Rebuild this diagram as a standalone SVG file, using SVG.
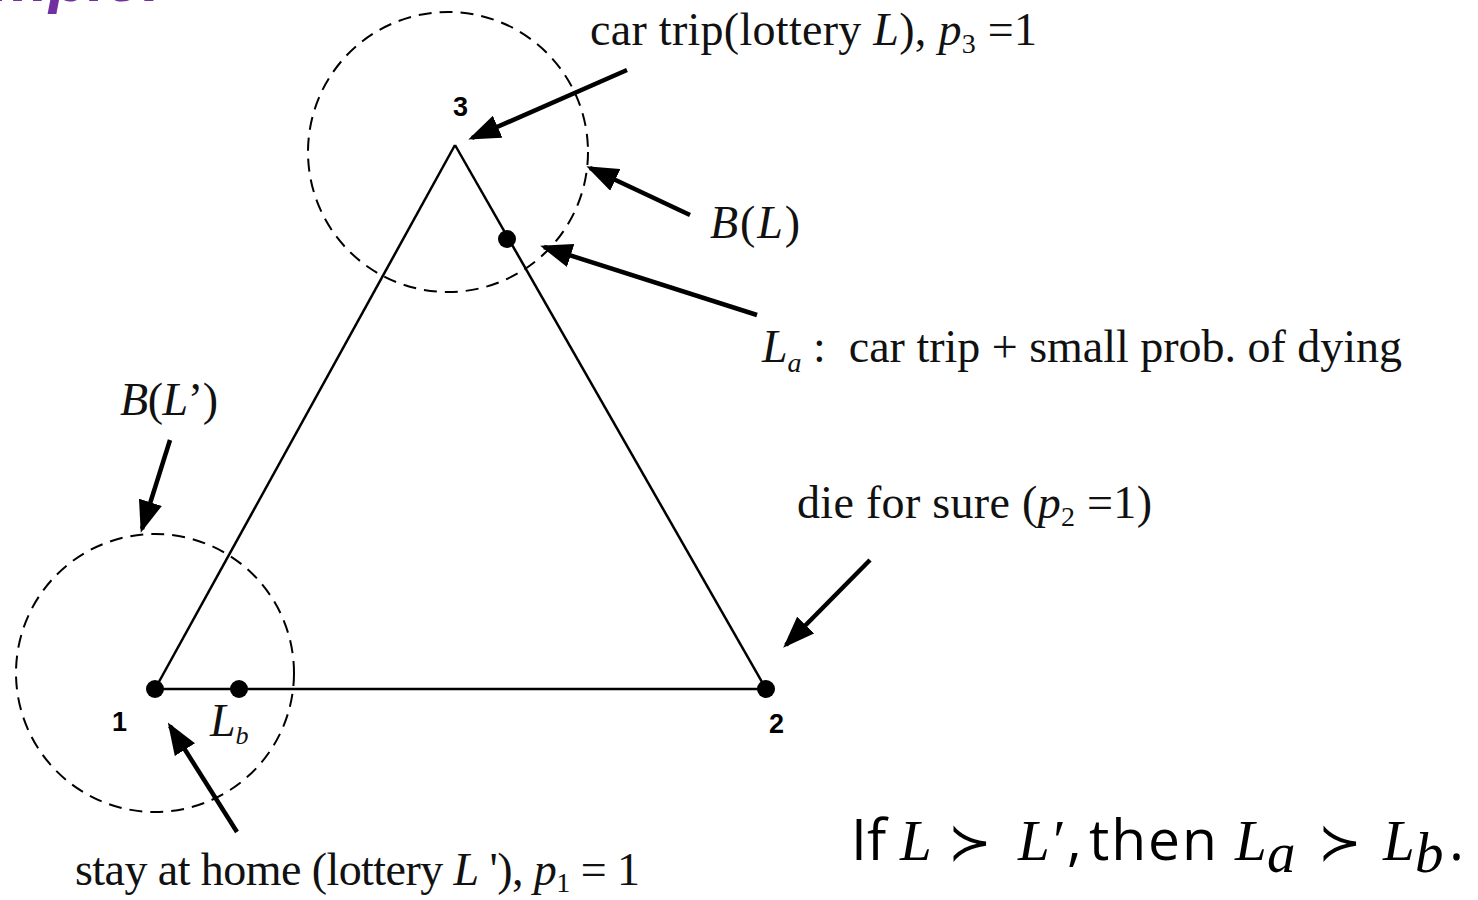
<svg xmlns="http://www.w3.org/2000/svg" width="1478" height="900" viewBox="0 0 1478 900">
<style>
.t{font-family:"Liberation Serif","DejaVu Serif",serif;font-size:46px;fill:#111}
.i{font-style:italic}
.num{font-family:"Liberation Sans",Arial,sans-serif;font-weight:bold;font-size:27px;fill:#000}
.edge{stroke:#000;stroke-width:2.5;fill:none}
.dash{stroke:#000;stroke-width:2;fill:none;stroke-dasharray:13 8}
.arr{stroke:#000;stroke-width:4.5;fill:none;marker-end:url(#ah)}
.dot{fill:#000}
.sans{font-family:"Open Sans","Noto Sans",sans-serif;font-size:57px;fill:#000}
.m{font-family:"Liberation Serif","DejaVu Serif",serif;font-style:italic;font-size:57px;fill:#000}
.op{font-family:"Noto Sans CJK JP","DejaVu Sans",sans-serif;font-weight:300;font-size:52px;fill:#000}
</style>
<defs>
<marker id="ah" viewBox="0 0 32 24" refX="28" refY="12" markerWidth="32" markerHeight="24" markerUnits="userSpaceOnUse" orient="auto">
<path d="M0,0 L32,12 L0,24 Z" fill="#000"/>
</marker>
</defs>
<text x="-8" y="1" font-family="Liberation Sans,Arial,sans-serif" font-weight="bold" font-style="italic" font-size="64" fill="#7030A0">mple:</text>

<g id="circles">
<circle class="dash" cx="448" cy="152" r="140"/>
<circle class="dash" cx="155" cy="673" r="139"/>
</g>

<g id="triangle">
<line class="edge" x1="155" y1="689" x2="455" y2="145"/>
<line class="edge" x1="455" y1="145" x2="766" y2="689"/>
<line class="edge" x1="155" y1="689" x2="766" y2="689"/>
</g>

<g id="node1"><circle class="dot" cx="155" cy="689" r="9"/><text class="num" x="112" y="731">1</text></g>
<g id="node2"><circle class="dot" cx="766" cy="689" r="9"/><text class="num" x="769" y="733">2</text></g>
<g id="node3"><text class="num" x="453" y="116">3</text></g>
<g id="nodeLa"><circle class="dot" cx="507" cy="239" r="9"/></g>
<g id="nodeLb"><circle class="dot" cx="239" cy="689" r="9"/>
<text class="t i" x="210" y="736" font-size="40" fill="#444">L<tspan font-size="26" dy="8">b</tspan></text></g>

<g id="connectors">
<line class="arr" x1="627" y1="70" x2="472" y2="138"/>
<line class="arr" x1="690" y1="215" x2="590" y2="168"/>
<line class="arr" x1="757" y1="315" x2="544" y2="247"/>
<line class="arr" x1="170" y1="440" x2="142" y2="529"/>
<line class="arr" x1="870" y1="560" x2="786" y2="645"/>
<line class="arr" x1="237" y1="832" x2="170" y2="726"/>
</g>

<g id="labels">
<text class="t" x="590" y="45" textLength="447">car trip(lottery <tspan class="i">L</tspan>), <tspan class="i">p</tspan><tspan font-size="28" dy="8">3</tspan><tspan dy="-8"> =1</tspan></text>
<text class="t" x="710" y="238" textLength="90"><tspan class="i">B</tspan>(<tspan class="i">L</tspan>)</text>
<text class="t" x="762" y="362" textLength="640" xml:space="preserve"><tspan class="i">L</tspan><tspan class="i" font-size="28" dy="10">a</tspan><tspan dy="-10"> :  car trip + small prob. of dying</tspan></text>
<text class="t" x="120" y="415" textLength="98"><tspan class="i">B</tspan>(<tspan class="i">L</tspan>’)</text>
<text class="t" x="797" y="518" textLength="355">die for sure (<tspan class="i">p</tspan><tspan font-size="28" dy="8">2</tspan><tspan dy="-8"> =1)</tspan></text>
<text class="t" x="75" y="885" textLength="565">stay at home (lottery <tspan class="i">L</tspan> '), <tspan class="i">p</tspan><tspan font-size="28" dy="7">1</tspan><tspan dy="-7"> = 1</tspan></text>
</g>

<g id="statement">
<text class="sans" x="851" y="860">If</text>
<text class="m" x="900" y="860">L</text>
<text class="op" x="948" y="860">≻</text>
<text class="m" x="1018" y="860">L′</text>
<text class="sans" x="1067" y="860">,</text>
<text class="sans" x="1089" y="860" textLength="128">then</text>
<text class="m" x="1235" y="860">L</text>
<text class="m" x="1267" y="872" font-size="46">a</text>
<text class="op" x="1318" y="860">≻</text>
<text class="m" x="1383" y="860">L</text>
<text class="m" x="1415" y="872" font-size="46">b</text>
<text class="sans" x="1449" y="860">.</text>
</g>
</svg>
